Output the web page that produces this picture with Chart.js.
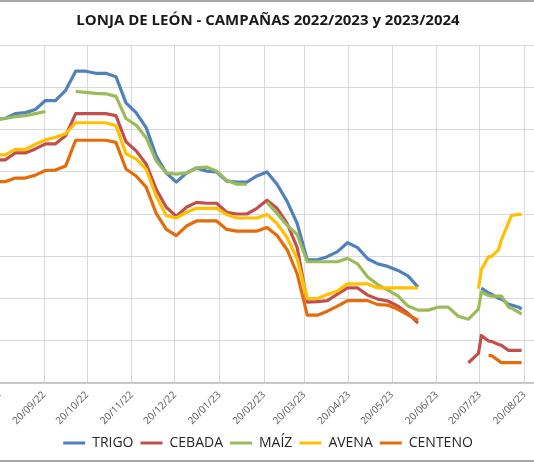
<!DOCTYPE html>
<html><head><meta charset="utf-8">
<script src="https://cdn.jsdelivr.net/npm/chart.js@4.4.0/dist/chart.umd.min.js"></script>
<style>
html,body{margin:0;padding:0;background:#fff;overflow:hidden;width:534px;height:462px;}
#wrap{position:absolute;left:-30px;top:0;width:596px;height:462px;}
#frame{position:absolute;left:0;top:0;width:534px;height:458px;border-top:2px solid #a6a6a6;border-bottom:2px solid #a6a6a6;pointer-events:none;}
</style></head><body>
<div id="wrap"><canvas id="c" width="596" height="462"></canvas></div>
<div id="frame"></div>
<script>
// ---- categories (session dates) ----
const dates = [
  '2022-08-17','2022-08-24','2022-08-31','2022-09-07','2022-09-14',
  '2022-09-21','2022-09-28','2022-10-05','2022-10-12','2022-10-19','2022-10-26','2022-11-02','2022-11-09','2022-11-16','2022-11-23',
  '2022-11-30','2022-12-07','2022-12-14','2022-12-21','2022-12-28','2023-01-04','2023-01-11','2023-01-18','2023-01-25','2023-02-01',
  '2023-02-08','2023-02-15','2023-02-22','2023-03-01','2023-03-08','2023-03-15','2023-03-22','2023-03-29','2023-04-05','2023-04-12',
  '2023-04-19','2023-04-26','2023-05-03','2023-05-10','2023-05-17','2023-05-24','2023-05-31','2023-06-07',
  '2023-06-14','2023-06-21','2023-06-28','2023-07-05','2023-07-12',
  '2023-07-19','2023-07-21','2023-07-26','2023-07-28','2023-08-02','2023-08-04','2023-08-09','2023-08-11','2023-08-16','2023-08-18'
];
// ---- series values (€/t) ----
const trigo = [
  324.7,325.2,327.5,328.0,329.5,
  333.7,333.7,338.5,347.6,347.6,346.6,346.6,345.0,332.6,328.0,
  320.9,307.5,299.4,295.1,299.4,301.8,300.3,299.9,295.6,295.1,
  295.1,298.0,299.9,294.1,286.0,275.5,258.3,258.3,259.8,262.2,
  266.4,264.1,258.8,256.4,255.2,253.3,250.7,245.4,
  null,null,null,null,null,
  null,245.0,242.6,242.1,240.0,239.7,237.3,236.9,235.9,235.0
];
const cebada = [
  305.6,305.6,308.9,308.9,310.8,
  313.2,313.2,317.0,327.5,327.5,327.5,327.5,326.6,314.2,309.9,
  303.7,291.7,283.2,278.9,283.2,285.5,285.1,285.1,280.8,280.0,
  280.0,282.7,286.5,282.7,275.5,264.1,238.3,238.5,239.0,242.1,
  245.0,245.0,241.6,239.7,238.8,236.4,233.0,228.3,
  null,null,null,null,209.6,
  214.0,222.5,219.9,219.7,218.2,217.8,215.4,215.4,215.4,215.4
];
const maiz = [
  324.9,325.2,326.1,326.6,327.5,
  328.5,null,null,338.0,337.6,337.1,336.9,335.7,325.2,322.1,
  316.1,305.1,299.4,298.9,299.4,301.8,302.2,300.3,296.0,294.1,
  294.1,null,285.5,280.3,274.6,270.3,257.4,257.4,257.4,257.4,
  259.0,256.4,250.2,246.6,244.0,241.2,236.4,234.5,
  234.5,235.9,235.9,231.6,230.2,
  235.0,243.1,241.4,241.1,241.1,241.1,235.9,235.4,233.5,232.6
];
const avena = [
  308.0,308.0,310.6,310.6,313.0,
  315.1,316.3,318.0,323.2,323.2,323.2,323.2,321.8,308.5,306.1,
  301.3,288.4,279.3,278.1,280.8,282.7,282.7,282.7,279.8,278.1,
  278.1,278.1,279.8,275.5,268.8,258.8,240.0,240.0,241.9,243.5,
  246.9,246.9,246.9,245.0,245.0,245.0,245.0,245.0,
  null,null,null,null,null,
  244.6,253.6,259.8,259.8,263.1,267.9,276.0,279.3,279.8,279.8
];
const centeno = [
  295.3,295.3,297.0,297.0,298.4,
  300.6,300.8,302.7,314.9,314.9,314.9,314.9,313.9,301.3,298.0,
  292.7,280.3,272.7,269.8,274.3,276.7,276.7,276.7,272.7,271.9,
  271.9,271.9,273.6,269.8,263.1,251.6,232.1,232.1,234.0,236.4,
  239.0,239.0,239.0,237.1,236.9,234.9,232.3,229.7,
  null,null,null,null,null,
  null,null,213.0,213.0,210.6,209.6,209.6,209.6,209.6,209.6
];
// ---- tick labels (axis dates) ----
const tickDates = ['2022-08-20','2022-09-20','2022-10-20','2022-11-20','2022-12-20','2023-01-20','2023-02-20',
  '2023-03-20','2023-04-20','2023-05-20','2023-06-20','2023-07-20','2023-08-20'];
const seriesNames = ['TRIGO','CEBADA','MAÍZ','AVENA','CENTENO'];
const seriesColors = ['#4F81BD','#C0504D','#9BBB59','#FFC000','#E46C0A'];
const titleText = 'LONJA DE LEÓN - CAMPAÑAS 2022/2023 y 2023/2024';

const dayNum = s => Date.UTC(+s.slice(0,4), +s.slice(5,7)-1, +s.slice(8,10)) / 864e5;
const base = dayNum('2022-09-20');
const xMin = base - 51.44, xMax = base + 362.86;
const tickDays = tickDates.map(dayNum);
const pad = n => String(n).padStart(2,'0');
const fmt = d => { const t = new Date(Math.round(d) * 864e5); return pad(t.getUTCDate()) + '/' + pad(t.getUTCMonth()+1) + '/' + String(t.getUTCFullYear()).slice(2); };

const all = [trigo, cebada, maiz, avena, centeno];
const datasets = all.map((arr, i) => ({
  label: seriesNames[i],
  data: arr.map((v, j) => ({x: dayNum(dates[j]), y: v})),
  borderColor: seriesColors[i],
  backgroundColor: seriesColors[i],
  borderWidth: 3.2,
  pointRadius: 0,
  tension: 0,
  spanGaps: false,
  borderJoinStyle: 'round',
  order: 5 - i
}));

new Chart(document.getElementById('c'), {
  type: 'line',
  data: { datasets },
  options: {
    responsive: false,
    animation: false,
    layout: { padding: { bottom: 2 } },
    scales: {
      x: {
        type: 'linear', min: xMin, max: xMax,
        afterBuildTicks: s => { s.ticks = tickDays.map(v => ({value: v})); },
        afterFit: s => { s.paddingLeft = 0; s.paddingRight = 0; s.height = 46; },
        ticks: { autoSkip: false, minRotation: 45, maxRotation: 45, padding: 6,
          callback: v => fmt(v), color: '#595959', font: { family: 'Open Sans', size: 10 } },
        grid: { color: '#d9d9d9', drawTicks: false, lineWidth: 1 },
        border: { color: '#bfbfbf', width: 1.5 }
      },
      y: {
        min: 200, max: 360,
        afterFit: s => { s.width = 0; },
        ticks: { stepSize: 20, display: false },
        grid: { color: '#d9d9d9', drawTicks: false, lineWidth: 1 },
        border: { display: false }
      }
    },
    plugins: {
      tooltip: { enabled: false },
      title: { display: true, text: titleText, color: '#1a1a1a',
        font: { family: 'Open Sans', size: 15, weight: 'bold' }, padding: { top: 12, bottom: 15 } },
      legend: {
        position: 'bottom',
        labels: {
          boxWidth: 22, boxHeight: 3, padding: 7, color: '#262626',
          font: { family: 'Open Sans', size: 14 },
          sort: (a, b) => a.datasetIndex - b.datasetIndex,
          generateLabels: chart => chart.data.datasets.map((ds, i) => ({
            text: ds.label, fillStyle: ds.borderColor, strokeStyle: ds.borderColor,
            lineWidth: 0, hidden: false, datasetIndex: i, fontColor: '#262626'
          }))
        }
      }
    }
  }
});
</script>
</body></html>
